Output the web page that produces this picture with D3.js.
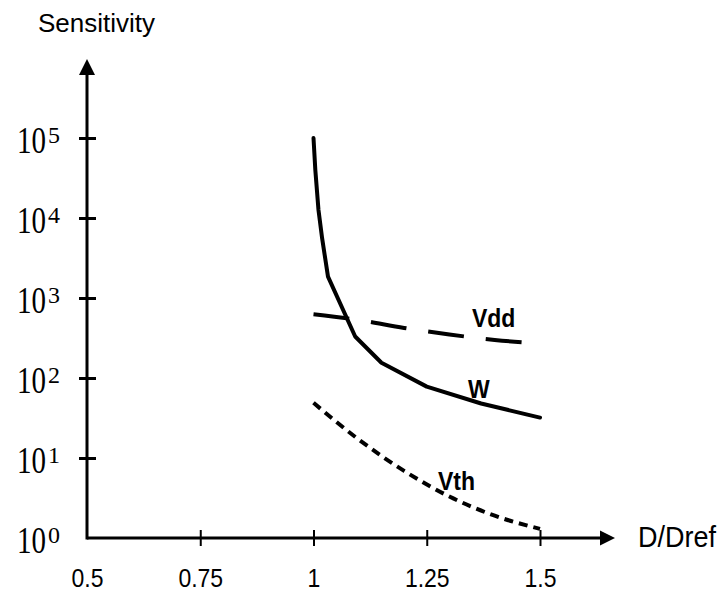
<!DOCTYPE html>
<html>
<head>
<meta charset="utf-8">
<script src="https://cdn.jsdelivr.net/npm/d3@7"></script>
<style>
  html, body { margin: 0; padding: 0; background: #fff; }
  svg { display: block; }
</style>
</head>
<body>
<svg id="chart" width="720" height="592"></svg>
<script>
const width = 720, height = 592;

// x ticks (D/Dref) and y decades
const xTicks = [0.5, 0.75, 1, 1.25, 1.5];
const yExponents = [0, 1, 2, 3, 4, 5];

// W (solid)
const wD =   [1.0, 1.004, 1.011, 1.019, 1.032, 1.092, 1.15, 1.25, 1.37, 1.5];
const wVal = [100000, 40000, 12600, 5600, 1850, 330, 155, 78, 48, 32];

// Vdd (long dashes)
const vddD =   [1.0, 1.1, 1.2, 1.3, 1.4, 1.5];
const vddVal = [625, 531, 422, 350, 299, 270];

// Vth (short dashes)
const vthD =   [1.0, 1.1, 1.2, 1.3, 1.4, 1.5];
const vthVal = [49, 17, 6.9, 3.3, 1.9, 1.3];

const svg = d3.select("#chart");

const x = d3.scaleLinear().domain([0.5, 1.5]).range([87, 540]);
const y = d3.scaleLog().domain([1, 1e5]).range([538, 138]);

const x0 = x(0.5), y0 = y(1);

// axes lines with arrow heads
svg.append("line")
    .attr("x1", x0).attr("y1", y0)
    .attr("x2", 602).attr("y2", y0)
    .attr("stroke", "#000").attr("stroke-width", 3);
svg.append("path")
    .attr("d", `M600,${y0 - 7.5} L615,${y0} L600,${y0 + 7.5} Z`)
    .attr("fill", "#000");

svg.append("line")
    .attr("x1", x0).attr("y1", y0 + 1.5)
    .attr("x2", x0).attr("y2", 72)
    .attr("stroke", "#000").attr("stroke-width", 3);
svg.append("path")
    .attr("d", `M${x0 - 8},75 L${x0},59 L${x0 + 8},75 Z`)
    .attr("fill", "#000");

// x axis ticks + labels
const xAxis = svg.append("g")
    .attr("transform", `translate(0,${y0})`)
    .call(d3.axisBottom(x).tickValues(xTicks).tickSize(8).tickFormat(d3.format("")));
xAxis.select(".domain").remove();
xAxis.selectAll(".tick line")
    .attr("y1", -8)
    .attr("stroke-width", 2)
    .filter(d => d === 0.5).remove();
xAxis.selectAll(".tick text")
    .attr("y", 0)
    .attr("dy", 0)
    .attr("transform", "translate(0,49) scale(1,1.15)")
    .style("font-family", "Arial, 'Liberation Sans', sans-serif")
    .style("font-size", "23px")
    .attr("fill", "#000");

// y axis ticks
const yAxis = svg.append("g")
    .attr("transform", `translate(${x0},0)`)
    .call(d3.axisLeft(y).tickValues(yExponents.slice(1).map(e => Math.pow(10, e))).tickSize(8).tickFormat(""));
yAxis.select(".domain").remove();
yAxis.selectAll(".tick line")
    .attr("x2", 9)
    .attr("x1", -8)
    .attr("stroke-width", 3);

// y labels: 10^n
const yLab = svg.append("g")
    .selectAll("g")
    .data(yExponents)
    .enter()
    .append("g")
    .attr("transform", e => `translate(17,${y(Math.pow(10, e)) + 15}) scale(1,1.2)`)
    .style("font-family", "'Liberation Serif', 'Times New Roman', serif")
    .attr("fill", "#000");
yLab.append("text")
    .attr("x", 0).attr("y", 0)
    .attr("textLength", 29)
    .attr("lengthAdjust", "spacingAndGlyphs")
    .style("font-size", "31px")
    .text("10");
yLab.append("text")
    .attr("x", 31).attr("y", -8.3)
    .attr("textLength", 12)
    .attr("lengthAdjust", "spacingAndGlyphs")
    .style("font-size", "20px")
    .text(e => e);

// axis titles
svg.append("text")
    .attr("x", 38).attr("y", 32)
    .style("font-family", "Arial, 'Liberation Sans', sans-serif")
    .style("font-size", "26px")
    .text("Sensitivity");

svg.append("text")
    .attr("transform", `translate(638,547) scale(1,1.1)`)
    .style("font-family", "Arial, 'Liberation Sans', sans-serif")
    .style("font-size", "27px")
    .text("D/Dref");

// curves
const line = d3.line()
    .x(d => x(d[0]))
    .y(d => y(d[1]));
const smooth = d3.line()
    .x(d => x(d[0]))
    .y(d => y(d[1]))
    .curve(d3.curveMonotoneX);

svg.append("path")
    .datum(wD.map((d, i) => [d, wVal[i]]))
    .attr("d", line)
    .attr("fill", "none")
    .attr("stroke", "#000")
    .attr("stroke-width", 4)
    .attr("stroke-linejoin", "round")
    .attr("stroke-linecap", "round");

svg.append("path")
    .datum(vddD.map((d, i) => [d, vddVal[i]]))
    .attr("d", smooth)
    .attr("fill", "none")
    .attr("stroke", "#000")
    .attr("stroke-width", 4)
    .attr("stroke-dasharray", "36,22");

svg.append("path")
    .datum(vthD.map((d, i) => [d, vthVal[i]]))
    .attr("d", smooth)
    .attr("fill", "none")
    .attr("stroke", "#000")
    .attr("stroke-width", 4)
    .attr("stroke-dasharray", "9,6");

// curve labels
const curveLabels = [
    { text: "Vdd", x: 472, y: 327 },
    { text: "W", x: 468, y: 398 },
    { text: "Vth", x: 438, y: 490 }
];
svg.append("g")
    .selectAll("text")
    .data(curveLabels)
    .enter()
    .append("text")
    .attr("transform", d => `translate(${d.x},${d.y}) scale(1,1.1)`)
    .style("font-family", "Arial, 'Liberation Sans', sans-serif")
    .style("font-weight", "bold")
    .style("font-size", "23px")
    .text(d => d.text);
</script>
</body>
</html>
